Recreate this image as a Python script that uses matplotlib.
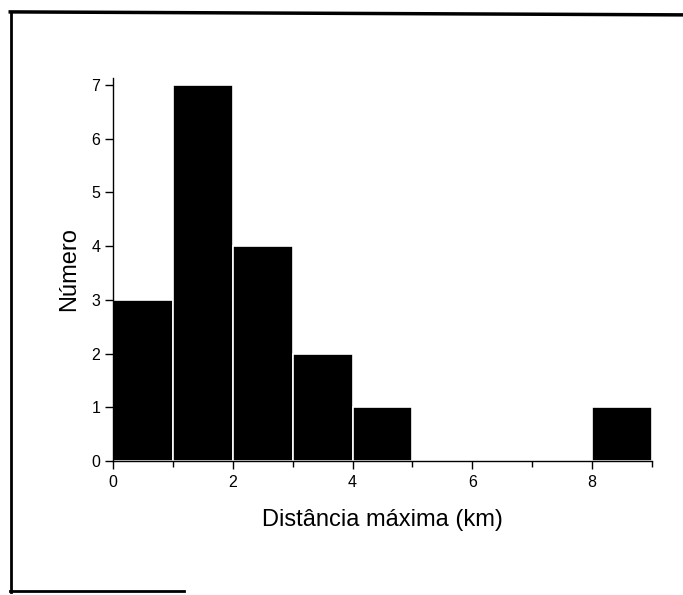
import numpy as np
import matplotlib.pyplot as plt
from matplotlib.lines import Line2D

plt.rcParams['font.family'] = ['Liberation Sans', 'DejaVu Sans']

# dados do histograma
bin_edges = [0, 1, 2, 3, 4, 5, 6, 7, 8, 9]
counts = [3, 7, 4, 2, 1, 0, 0, 0, 1]
xticks = [0, 2, 4, 6, 8]
yticks = [0, 1, 2, 3, 4, 5, 6, 7]

fig = plt.figure(figsize=(6.83, 5.95), dpi=100)
ax = fig.add_axes([0.1654, 0.2252, 0.7892, 0.6437])

left = bin_edges[:-1]
widths = np.diff(bin_edges)
ax.bar(left, counts, width=widths, align='edge', color='black',
       edgecolor='white', linewidth=1.2)

ax.set_xlim(0, 9)
ax.set_ylim(0, 7.13)
ax.set_xticks(xticks)
ax.set_xticks([1, 3, 5, 7, 9], minor=True)
ax.set_yticks(yticks)

for s in ['top', 'right']:
    ax.spines[s].set_visible(False)
for s in ['left', 'bottom']:
    ax.spines[s].set_linewidth(1.0)

ax.tick_params(axis='both', which='major', direction='out', length=6,
               width=1.0, labelsize=11.5)
ax.tick_params(axis='x', which='minor', direction='out', length=4, width=1.0)
ax.tick_params(axis='x', pad=4)
ax.tick_params(axis='y', pad=3)

ax.set_xlabel('Distância máxima (km)', fontsize=17, labelpad=14)
ax.set_ylabel('Número', fontsize=17, labelpad=8)

# moldura digitalizada em volta da figura
fig.add_artist(Line2D([0.015, 1.0], [0.980, 0.975], transform=fig.transFigure,
                      color='black', linewidth=2.5))
fig.add_artist(Line2D([0.016, 0.016], [0.980, 0.005], transform=fig.transFigure,
                      color='black', linewidth=2.0))
fig.add_artist(Line2D([0.015, 0.27], [0.006, 0.006], transform=fig.transFigure,
                      color='black', linewidth=2.0))

fig.savefig('out.png', dpi=100)
